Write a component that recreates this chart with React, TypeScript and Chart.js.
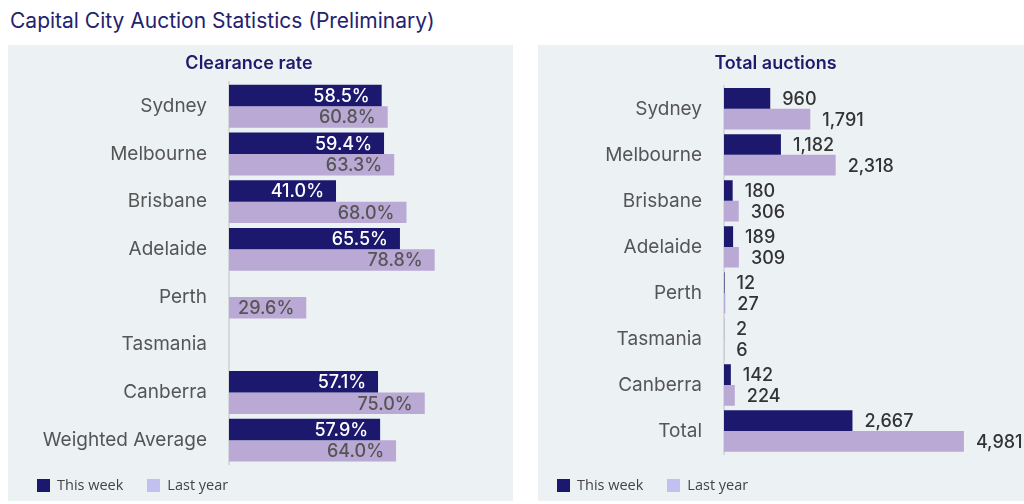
import { useEffect, useRef } from 'react';
import { Chart, BarController, BarElement, CategoryScale, LinearScale, Title } from 'chart.js';
import type { Plugin } from 'chart.js';

Chart.register(BarController, BarElement, CategoryScale, LinearScale, Title);
Chart.defaults.font.family = 'Inter, "Noto Sans", sans-serif';

// Values
const seriesNames = ['This week', 'Last year'];

const clearanceCities = ['Sydney', 'Melbourne', 'Brisbane', 'Adelaide', 'Perth', 'Tasmania', 'Canberra', 'Weighted Average'];
const clearanceThisWeek = [58.5, 59.4, 41.0, 65.5, null, null, 57.1, 57.9];
const clearanceLastYear = [60.8, 63.3, 68.0, 78.8, 29.6, null, 75.0, 64.0];

const auctionCities = ['Sydney', 'Melbourne', 'Brisbane', 'Adelaide', 'Perth', 'Tasmania', 'Canberra', 'Total'];
const auctionsThisWeek = [960, 1182, 180, 189, 12, 2, 142, 2667];
const auctionsLastYear = [1791, 2318, 306, 309, 27, 6, 224, 4981];

const NAVY = '#1b186e';
const LAVENDER = '#b9a9d4';
const LEGEND_LAVENDER = '#c3bff0';
const PANEL_BG = '#ecf1f4';

type LabelStyle = {
  inside: boolean;
  colors: string[];
  format: (v: number) => string;
};

// draws the value next to / inside the end of each bar
function barLabels(style: LabelStyle): Plugin<'bar'> {
  return {
    id: 'barLabels',
    afterDatasetsDraw(chart) {
      const { ctx } = chart;
      ctx.save();
      ctx.font = '500 18px Inter, "Noto Sans", sans-serif';
      ctx.textBaseline = 'middle';
      ctx.textAlign = style.inside ? 'right' : 'left';
      chart.data.datasets.forEach((ds, di) => {
        const meta = chart.getDatasetMeta(di);
        ctx.fillStyle = style.colors[di];
        meta.data.forEach((bar, i) => {
          const v = ds.data[i] as number | null;
          if (v === null || v === undefined) return;
          const { x, y } = bar.getProps(['x', 'y'], true);
          ctx.fillText(style.format(v), style.inside ? x - 12 : x + 12, y + 1);
        });
      });
      ctx.restore();
    },
  };
}

type PanelProps = {
  left: number;
  width: number;
  title: string;
  labels: string[];
  thisWeek: (number | null)[];
  lastYear: (number | null)[];
  max: number;
  axisWidth: number;
  padRight: number;
  padBottom: number;
  titleGap: number;
  legendLeft: number;
  labelStyle: LabelStyle;
};

const PANEL_TOP = 45;
const PANEL_HEIGHT = 456;

function BarPanel(p: PanelProps) {
  const canvasRef = useRef<HTMLCanvasElement>(null);

  useEffect(() => {
    if (!canvasRef.current) return;
    const chart = new Chart(canvasRef.current, {
      type: 'bar',
      data: {
        labels: p.labels,
        datasets: [
          { label: seriesNames[0], data: p.thisWeek, backgroundColor: NAVY, categoryPercentage: 0.9, barPercentage: 1 },
          { label: seriesNames[1], data: p.lastYear, backgroundColor: LAVENDER, categoryPercentage: 0.9, barPercentage: 1 },
        ],
      },
      options: {
        indexAxis: 'y',
        responsive: false,
        animation: false,
        layout: { padding: { left: 0, top: 0, right: p.padRight, bottom: p.padBottom } },
        scales: {
          x: { display: false, min: 0, max: p.max },
          y: {
            grid: { display: false, drawTicks: false },
            border: { display: true, color: '#d6dadd', width: 2 },
            ticks: { color: '#555555', font: { size: 19 }, padding: 22 },
            afterFit: (scale) => {
              scale.width = p.axisWidth;
            },
          },
        },
        plugins: {
          title: {
            display: true,
            text: p.title,
            color: '#1d1b6b',
            font: { size: 18, weight: 600 },
            padding: { top: 7.5, bottom: p.titleGap },
          },
        },
      },
      plugins: [barLabels(p.labelStyle)],
    });
    return () => chart.destroy();
  }, []);

  return (
    <div
      style={{
        position: 'absolute',
        left: p.left,
        top: PANEL_TOP,
        width: p.width,
        height: PANEL_HEIGHT,
        background: PANEL_BG,
      }}
    >
      <canvas ref={canvasRef} width={p.width} height={PANEL_HEIGHT} style={{ position: 'absolute', left: 0, top: 0 }} />
      <div
        style={{
          position: 'absolute',
          left: p.legendLeft,
          top: 433,
          display: 'flex',
          alignItems: 'center',
          gap: 24,
          fontFamily: '"Open Sans", sans-serif',
          fontSize: 14.5,
          lineHeight: '14px',
          color: '#444',
        }}
      >
        {seriesNames.map((name, i) => (
          <div key={name} style={{ display: 'flex', alignItems: 'center' }}>
            <span
              style={{
                display: 'inline-block',
                width: 13,
                height: 13,
                marginRight: 7,
                background: i === 0 ? NAVY : LEGEND_LAVENDER,
              }}
            />
            <span>{name}</span>
          </div>
        ))}
      </div>
    </div>
  );
}

export default function App() {
  return (
    <div style={{ position: 'absolute', left: 0, top: 0, width: 1024, height: 504, overflow: 'hidden', background: '#fff' }}>
      <div
        style={{
          position: 'absolute',
          left: 10,
          top: 10,
          fontFamily: 'Inter, sans-serif',
          fontSize: 21,
          lineHeight: 1,
          color: '#24226e',
          whiteSpace: 'nowrap',
        }}
      >
        Capital City Auction Statistics (Preliminary)
      </div>
      <BarPanel
        left={8}
        width={505}
        title="Clearance rate"
        labels={clearanceCities}
        thisWeek={clearanceThisWeek}
        lastYear={clearanceLastYear}
        max={100}
        axisWidth={221}
        padRight={23}
        padBottom={37}
        titleGap={8.3}
        legendLeft={29}
        labelStyle={{ inside: true, colors: ['#ffffff', '#555555'], format: (v) => v.toFixed(1) + '%' }}
      />
      <BarPanel
        left={538}
        width={486}
        title="Total auctions"
        labels={auctionCities}
        thisWeek={auctionsThisWeek}
        lastYear={auctionsLastYear}
        max={6000}
        axisWidth={186}
        padRight={11}
        padBottom={47}
        titleGap={11.7}
        legendLeft={19}
        labelStyle={{ inside: false, colors: ['#333333', '#333333'], format: (v) => v.toLocaleString('en-US') }}
      />
    </div>
  );
}
